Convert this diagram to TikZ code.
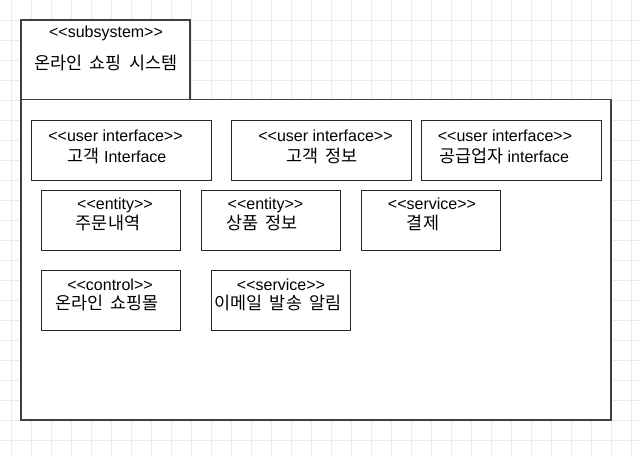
\documentclass[tikz,border=0pt]{standalone}
\usepackage{fontspec}
\setmainfont{Liberation Sans}[Ligatures=TeXOff]
\newfontfamily\kr{Noto Sans CJK KR}[Scale=1.09, WordSpace=1.9]
\definecolor{gridgray}{HTML}{EBEBEB}
\definecolor{framegray}{HTML}{404040}
\tikzset{
  gridline/.style={draw=gridgray, line width=0.8pt},
  frame/.style={draw=framegray, fill=white, line width=1.4pt},
  box/.style={draw=black!85, fill=white, line width=1pt, anchor=north west, minimum height=60pt, inner sep=0pt},
  txt/.style={anchor=base, inner sep=0pt, font=\fontsize{16}{19}\selectfont}
}
\begin{document}
\begin{tikzpicture}[x=1pt, y=-1pt]
  \useasboundingbox (0,0) rectangle (641,457);
  % background grid
  \foreach \gx in {11.5,31.5,...,640} {
    \draw[gridline] (\gx,0) -- (\gx,457);
  }
  \foreach \gy in {20,40,...,456} {
    \draw[gridline] (0,\gy) -- (641,\gy);
  }
  % package tab and body
  \draw[frame] (21,20) rectangle (190,99.5);
  \draw[frame] (21,99.5) rectangle (611,420);
  \node[txt] (tabs) at (106,38) {<<subsystem>>};
  \node[txt] (tabn) at (106,70) {\kr 온라인 쇼핑 시스템};
  % first row
  \node[box, minimum width=180pt] (ui1) at (31,120) {};
  \node[txt] (ui1s) at (115.5,142) {<<user interface>>};
  \node[txt] (ui1n) at (117,163) {{\kr 고객} Interface};
  \node[box, minimum width=180pt] (ui2) at (231,120) {};
  \node[txt] (ui2s) at (325.5,142) {<<user interface>>};
  \node[txt] (ui2n) at (322,163) {\kr 고객 정보};
  \node[box, minimum width=180pt] (ui3) at (421,120) {};
  \node[txt] (ui3s) at (505,142) {<<user interface>>};
  \node[txt] (ui3n) at (504,163) {{\kr 공급업자} interface};
  % second row
  \node[box, minimum width=139pt] (ent1) at (41,190) {};
  \node[txt] (ent1s) at (115,210) {<<entity>>};
  \node[txt] (ent1n) at (108,230) {\kr 주문내역};
  \node[box, minimum width=139pt] (ent2) at (201,190) {};
  \node[txt] (ent2s) at (265.5,210) {<<entity>>};
  \node[txt] (ent2n) at (262,230) {\kr 상품 정보};
  \node[box, minimum width=139pt] (svc1) at (361,190) {};
  \node[txt] (svc1s) at (432,210) {<<service>>};
  \node[txt] (svc1n) at (423,230) {\kr 결제};
  % third row
  \node[box, minimum width=139pt] (ctl) at (41,270) {};
  \node[txt] (ctls) at (110,291) {<<control>>};
  \node[txt] (ctln) at (107,310) {\kr 온라인 쇼핑몰};
  \node[box, minimum width=139pt] (svc2) at (211,270) {};
  \node[txt] (svc2s) at (281,291) {<<service>>};
  \node[txt] (svc2n) at (278,310) {\kr 이메일 발송 알림};
\end{tikzpicture}
\end{document}
